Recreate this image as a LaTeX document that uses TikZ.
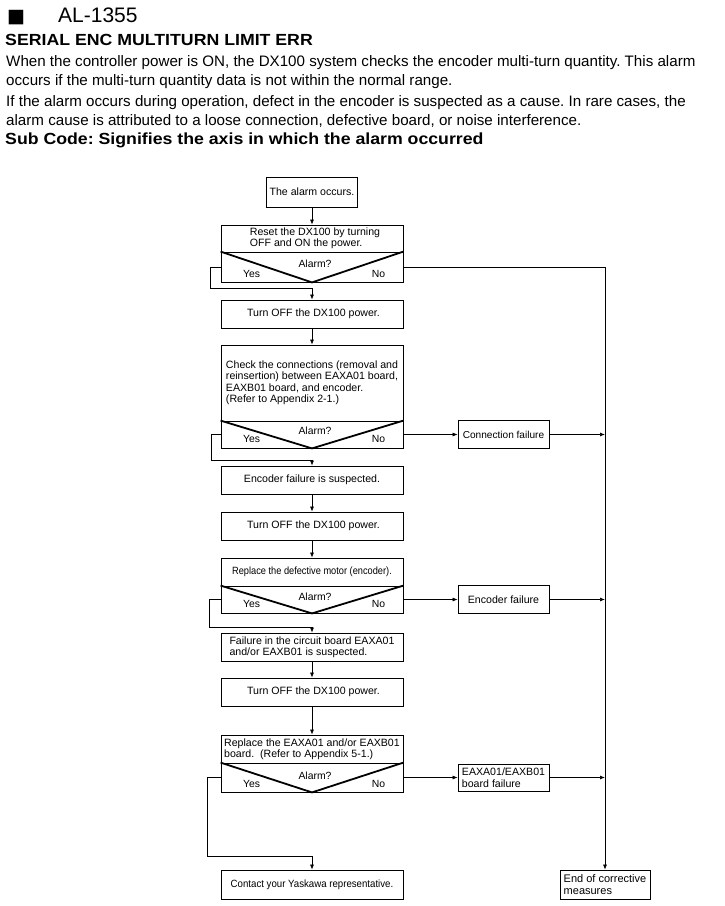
\documentclass[tikz,border=0pt]{standalone}
\usepackage{fontspec}
\setmainfont{Liberation Sans}
\newfontfamily\djv{DejaVu Sans}
\newfontfamily\hb{Liberation Sans}[FakeStretch=1.1]
\newfontfamily\condA{Liberation Sans}[FakeStretch=0.88]
\newfontfamily\condB{Liberation Sans}[FakeStretch=0.92]
\usetikzlibrary{arrows.meta,calc}
\frenchspacing
\begin{document}
\begin{tikzpicture}[x=1pt,y=-1pt,
  box/.style={draw, line width=0.8pt, minimum width=182pt, inner sep=2pt, align=left, font=\fontsize{10.6}{11.5}\selectfont},
  sbox/.style={box, minimum width=91pt},
  dec/.style={draw, line width=0.8pt, minimum width=182pt, inner sep=0pt},
  vline/.style={line width=1.8pt},
  lbl/.style={inner sep=0pt, font=\fontsize{10.4}{11.5}\selectfont},
  hdr/.style={anchor=base west, inner sep=0pt},
  body/.style={hdr, font=\fontsize{15.15}{15}\selectfont},
  bhdr/.style={hdr, font=\hb\bfseries\fontsize{16.1}{16}\selectfont},
  arr/.style={line width=0.7pt, -{Latex[length=5pt,width=4pt]}},
]
\useasboundingbox (0,0) rectangle (725,906);
% header
\node[hdr, font=\djv\fontsize{19}{19}\selectfont] (sq) at (7,22) {■};
\node[hdr, font=\fontsize{21}{21}\selectfont] (al) at (58,22) {AL-1355};
\node[bhdr] (ttl) at (5,45) {SERIAL ENC MULTITURN LIMIT ERR};
\node[body] (b1l) at (6,66) {When the controller power is ON, the DX100 system checks the encoder multi-turn quantity. This alarm};
\node[body] (b2l) at (6,85) {occurs if the multi-turn quantity data is not within the normal range.};
\node[body] (b3l) at (6,106) {If the alarm occurs during operation, defect in the encoder is suspected as a cause. In rare cases, the};
\node[body] (b4l) at (6,125) {alarm cause is attributed to a loose connection, defective board, or noise interference.};
\node[bhdr] (sub) at (5,144) {Sub Code: Signifies the axis in which the alarm occurred};
% main column
\node[sbox, minimum height=30pt] (a1) at (312,192) {The alarm occurs.};
\node[box, minimum height=27pt] (r1) at (312,238.5) {\hspace*{6pt}Reset the DX100 by turning\\\hspace*{6pt}OFF and ON the power.};
\node[dec, minimum height=30pt] (d1) at (312,267) {};
\node[box, minimum height=28pt] (t1) at (312,314) {\hspace*{3pt}Turn OFF the DX100 power.};
\node[box, minimum height=76pt] (c1) at (312,383) {Check the connections (removal and\\reinsertion) between EAXA01 board,\\EAXB01 board, and encoder.\\(Refer to Appendix 2-1.)};
\node[dec, minimum height=27pt] (d2) at (312,434.5) {};
\node[box, minimum height=28pt] (e1) at (312,480) {Encoder failure is suspected.};
\node[box, minimum height=28pt] (t2) at (312,526) {\hspace*{3pt}Turn OFF the DX100 power.};
\node[box, minimum height=28pt, font=\condA\fontsize{10.5}{11.5}\selectfont] (m1) at (312,572) {Replace the defective motor (encoder).};
\node[dec, minimum height=27pt] (d3) at (312,599.5) {};
\node[box, minimum height=28pt] (f1) at (312,647) {Failure in the circuit board EAXA01\\and/or EAXB01 is suspected.};
\node[box, minimum height=28pt] (t3) at (312,692) {\hspace*{3pt}Turn OFF the DX100 power.};
\node[box, minimum height=28pt] (m2) at (312,749) {Replace the EAXA01 and/or EAXB01\\board.~~(Refer to Appendix 5-1.)};
\node[dec, minimum height=29pt] (d4) at (312,777.5) {};
\node[box, minimum height=29pt, font=\condB\fontsize{10.5}{11.5}\selectfont] (k1) at (312,884.5) {Contact your Yaskawa representative.};
% side boxes
\node[sbox, minimum height=28pt, font=\fontsize{10.1}{11.5}\selectfont] (cf) at (503.5,434.5) {Connection failure};
\node[sbox, minimum height=28pt] (ef) at (503.5,599.5) {Encoder failure};
\node[sbox, minimum height=27pt] (bf) at (503.5,777.5) {EAXA01/EAXB01\\board failure};
\node[box, minimum width=90pt, minimum height=29pt, font=\fontsize{11}{12}\selectfont] (en) at (605,884.5) {End of corrective\\measures\hspace*{8pt}};
% decision decorations
\foreach \d in {d1,d2,d3,d4}{
  \draw[vline] (\d.north west) -- (\d.south) -- (\d.north east);
}
\node[lbl] (q1) at ($(d1.center)+(3,-3)$) {Alarm?};
\node[lbl] (y1) at ($(d1.south west)+(31,-8)$) {Yes};
\node[lbl] (n1) at ($(d1.south east)+(-25,-8)$) {No};
\node[lbl] (q2) at ($(d2.center)+(3,-4)$) {Alarm?};
\node[lbl] (y2) at ($(d2.south west)+(31,-9)$) {Yes};
\node[lbl] (n2) at ($(d2.south east)+(-25,-9)$) {No};
\node[lbl] (q3) at ($(d3.center)+(3,-3)$) {Alarm?};
\node[lbl] (y3) at ($(d3.south west)+(31,-9)$) {Yes};
\node[lbl] (n3) at ($(d3.south east)+(-25,-9)$) {No};
\node[lbl] (q4) at ($(d4.center)+(3,-2)$) {Alarm?};
\node[lbl] (y4) at ($(d4.south west)+(31,-8)$) {Yes};
\node[lbl] (n4) at ($(d4.south east)+(-25,-8)$) {No};
% connectors
\coordinate (w1) at (210,288); \coordinate (j1) at (312,288);
\coordinate (w2) at (211,460); \coordinate (j2) at (312,460);
\coordinate (w3) at (209,627); \coordinate (j3) at (312,627);
\coordinate (w4) at (207,856); \coordinate (j4) at (312,856);
\draw[arr] (a1.south) -- (r1.north);
\draw[arr] (d1.west) -| (w1) -- (j1) -- (t1.north);
\draw[arr] (t1.south) -- (c1.north);
\draw[arr] (d2.west) -| (w2) -- (j2) -- (e1.north);
\draw[arr] (e1.south) -- (t2.north);
\draw[arr] (t2.south) -- (m1.north);
\draw[arr] (d3.west) -| (w3) -- (j3) -- (f1.north);
\draw[arr] (f1.south) -- (t3.north);
\draw[arr] (t3.south) -- (m2.north);
\draw[arr] (d4.west) -| (w4) -- (j4) -- (k1.north);
\draw[arr] (d1.east) -| (en.north);
\draw[arr] (d2.east) -- (cf.west);
\draw[arr] (cf.east) -- (cf.east -| en.north);
\draw[arr] (d3.east) -- (ef.west);
\draw[arr] (ef.east) -- (ef.east -| en.north);
\draw[arr] (d4.east) -- (bf.west);
\draw[arr] (bf.east) -- (bf.east -| en.north);
\end{tikzpicture}
\end{document}
